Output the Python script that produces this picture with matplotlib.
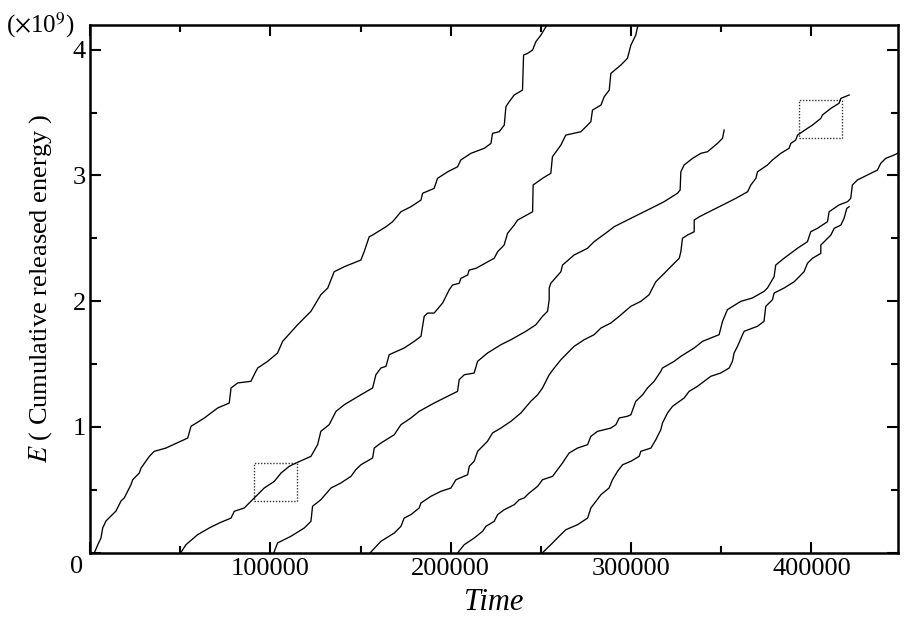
import matplotlib
matplotlib.use("Agg")
import matplotlib.pyplot as plt
from matplotlib.patches import Rectangle
from matplotlib.ticker import MultipleLocator, FixedLocator

plt.rcParams['font.family'] = ['Liberation Serif', 'DejaVu Serif']
plt.rcParams['mathtext.fontset'] = 'stix'

# Time values and cumulative released energy (x1e9) for six runs
t1 = [2500, 4270, 6100, 7040, 8870, 14400, 17200, 19000, 22700, 23700, 27300, 28300, 32900, 35600,
      42100, 54200, 56000, 63400, 70800, 77200, 78200, 81900, 89200, 92000, 93000, 98500, 104000,
      106800, 115100, 122500, 128000, 131800, 135400, 141000, 150200, 152000, 154800, 156700,
      164100, 167800, 172400, 177900, 183500, 184400, 190800, 192700, 198300, 203800, 205600,
      211200, 218600, 222300, 223200, 226900, 229700, 230600, 232400, 235200, 239800, 240400,
      242600, 245400, 247200, 250000, 252800, 254500]
e1 = [0.0, 0.06, 0.116, 0.195, 0.251, 0.330, 0.410, 0.434, 0.539, 0.579, 0.632, 0.672, 0.765, 0.805,
      0.831, 0.911, 1.004, 1.070, 1.150, 1.189, 1.309, 1.349, 1.362, 1.442, 1.468, 1.521, 1.587,
      1.680, 1.812, 1.919, 2.051, 2.104, 2.234, 2.274, 2.327, 2.393, 2.512, 2.526,
      2.592, 2.632, 2.711, 2.751, 2.804, 2.858, 2.897, 2.977, 3.029, 3.069, 3.123,
      3.176, 3.216, 3.255, 3.335, 3.348, 3.401, 3.547, 3.586, 3.640, 3.679, 3.958,
      3.971, 3.998, 4.064, 4.117, 4.183, 4.25]

t2 = [50400, 53200, 59700, 66100, 71700, 78200, 80000, 85500, 89200, 96600, 102200, 105900, 110500,
      114200, 122500, 126200, 128000, 132600, 136400, 141000, 150200, 156700, 158500, 161300,
      164100, 165900, 174200, 179800, 183500, 185300, 187200, 190800, 195500, 199200, 201000,
      204700, 205600, 209400, 210200, 214000, 224100, 226000, 229600, 231500, 235200, 237100,
      245400, 245700, 250900, 255500, 256400, 261100, 263800, 272200, 277700, 278600, 283300,
      285100, 287900, 288800, 294300, 298000, 299900, 302600, 303600, 304500]
e2 = [0.0, 0.062, 0.142, 0.195, 0.235, 0.274, 0.328, 0.354, 0.407, 0.513, 0.566, 0.632, 0.686,
      0.712, 0.765, 0.858, 0.964, 1.017, 1.123, 1.176, 1.255, 1.309, 1.414, 1.468,
      1.481, 1.574, 1.627, 1.680, 1.720, 1.879, 1.905, 1.905, 1.985, 2.091, 2.128,
      2.142, 2.181, 2.208, 2.247, 2.261, 2.341, 2.393, 2.446, 2.539, 2.605, 2.645,
      2.711, 2.924, 2.977, 3.017, 3.149, 3.242, 3.321, 3.348, 3.427, 3.520, 3.560,
      3.626, 3.679, 3.812, 3.878, 3.932, 4.037, 4.117, 4.183, 4.25]

t3 = [102000, 104000, 111400, 118800, 122500, 123400, 128000, 133600, 139100, 144700, 147400,
      150200, 156700, 157600, 161300, 168700, 172400, 177900, 182500, 190800, 198300, 203800,
      204700, 207500, 213000, 214900, 220400, 227800, 233400, 241700, 247200, 250900, 253700,
      254600, 254600, 255500, 261100, 262000, 268400, 275800, 279500, 287000, 290600, 299900,
      307200, 312800, 318300, 325700, 327200, 327600, 329400, 334100, 338700, 342400, 347900,
      350700, 351600]
e3 = [0.0, 0.076, 0.129, 0.195, 0.248, 0.368, 0.420, 0.513, 0.553, 0.606, 0.659,
      0.698, 0.752, 0.831, 0.871, 0.937, 1.017, 1.070, 1.123, 1.189, 1.243, 1.282,
      1.375, 1.414, 1.428, 1.521, 1.587, 1.653, 1.693, 1.760, 1.812, 1.879, 1.919,
      2.011, 2.104, 2.142, 2.234, 2.287, 2.367, 2.420, 2.473, 2.552, 2.592, 2.659,
      2.711, 2.751, 2.791, 2.858, 2.884, 3.029, 3.083, 3.136, 3.176, 3.189, 3.255,
      3.295, 3.361]

t4 = [155500, 161300, 168700, 172400, 174200, 177900, 182500, 183500, 189000, 194600, 200100,
      202900, 209400, 210300, 213000, 214900, 220400, 223200, 227800, 233400, 238900, 244400,
      248200, 250900, 254600, 257400, 261100, 265700, 268400, 274000, 279500, 283300, 288800,
      293400, 299900, 305400, 310000, 311900, 313700, 316500, 319300, 321100, 326700, 327600,
      328500, 331300, 335000, 335000, 337800, 343300, 352600, 358100, 364600, 366400, 369200,
      370100, 375600, 378400, 383000, 387600, 388600, 391300, 392300, 397800, 400600, 405200,
      406100, 410800, 415300, 416300, 420900]
e4 = [0.0, 0.089, 0.155, 0.208, 0.274, 0.301, 0.354, 0.394, 0.447, 0.487, 0.513,
      0.579, 0.619, 0.686, 0.726, 0.805, 0.885, 0.951, 0.990, 1.044, 1.110, 1.203,
      1.255, 1.309, 1.414, 1.468, 1.534, 1.601, 1.640, 1.693, 1.733, 1.786, 1.826,
      1.879, 1.959, 1.998, 2.051, 2.104, 2.154, 2.194, 2.234, 2.261, 2.341, 2.393,
      2.500, 2.526, 2.552, 2.645, 2.671, 2.711, 2.778, 2.818, 2.870, 2.924, 2.977,
      3.029, 3.083, 3.123, 3.176, 3.216, 3.255, 3.282, 3.321, 3.375, 3.401, 3.454,
      3.481, 3.534, 3.574, 3.613, 3.640]

t5 = [204000, 207500, 213000, 217700, 219500, 224100, 226000, 229600, 235200, 238000, 240700,
      243500, 248200, 250900, 256500, 259200, 262000, 263800, 265700, 270300, 275900, 277700,
      281400, 288800, 291600, 293400, 298000, 299900, 302600, 306400, 309100, 312800, 316500,
      317400, 323900, 327600, 335000, 339600, 348800, 350700, 353400, 360800, 367300, 373800,
      375600, 379300, 380200, 384800, 392200, 397800, 399600, 403300, 408900, 409800, 415300,
      420000, 421800, 422700, 425500, 436600, 438400, 441200, 445800, 449500]
e5 = [0.0, 0.062, 0.115, 0.169, 0.208, 0.248, 0.301, 0.340, 0.380, 0.420, 0.434,
      0.473, 0.527, 0.579, 0.606, 0.659, 0.712, 0.752, 0.792, 0.831, 0.858, 0.924,
      0.964, 0.990, 1.017, 1.070, 1.084, 1.096, 1.203, 1.255, 1.309, 1.362, 1.442,
      1.468, 1.521, 1.561, 1.627, 1.680, 1.733, 1.839, 1.932, 1.998, 2.025, 2.078,
      2.104, 2.194, 2.287, 2.341, 2.420, 2.473, 2.552, 2.579, 2.632, 2.711, 2.765,
      2.791, 2.818, 2.924, 2.964, 3.043, 3.096, 3.136, 3.162, 3.189]

t6 = [251000, 255500, 260100, 263800, 270300, 275900, 277700, 280500, 283300, 287800, 289700,
      292500, 295300, 299900, 304500, 305400, 311000, 313700, 316500, 317400, 320200, 323000,
      329400, 332200, 336800, 340500, 344200, 349700, 354400, 356200, 357100, 359000, 361800,
      362700, 370100, 373700, 374700, 378400, 379300, 384800, 390400, 393200, 395900, 397800,
      400600, 405200, 405200, 410800, 412600, 416300, 418100, 419600, 420900]
e6 = [0.0, 0.062, 0.129, 0.181, 0.221, 0.274, 0.354, 0.407, 0.460, 0.513, 0.579,
      0.646, 0.698, 0.726, 0.765, 0.805, 0.831, 0.897, 0.977, 1.030, 1.110, 1.163,
      1.229, 1.282, 1.322, 1.362, 1.402, 1.428, 1.468, 1.521, 1.587, 1.640, 1.733,
      1.760, 1.800, 1.839, 1.959, 2.011, 2.064, 2.104, 2.154, 2.194, 2.234, 2.301,
      2.341, 2.380, 2.446, 2.526, 2.579, 2.605, 2.659, 2.738, 2.751]

series_t = [t1, t2, t3, t4, t5, t6]
series_e = [e1, e2, e3, e4, e5, e6]

# dotted boxes: (time start, energy start, width, height)
box_t = [91000, 393000]
box_e = [0.41, 3.30]
box_w = [24000, 24000]
box_h = [0.30, 0.30]

x_ticks = [0, 100000, 200000, 300000, 400000]
x_labels = ['', '100000', '200000', '300000', '400000']
y_ticks = [0, 1, 2, 3, 4]
y_labels = ['', '1', '2', '3', '4']

fig = plt.figure(figsize=(9.05, 6.17), dpi=100)
ax = fig.add_axes([90/905, 1-552.5/617, 808/905, 527.5/617])

for t, e in zip(series_t, series_e):
    ax.plot(t, e, color='black', lw=0.95)

for bx, by, bw, bh in zip(box_t, box_e, box_w, box_h):
    ax.add_patch(Rectangle((bx, by), bw, bh, fill=False, ls=(0, (1, 1.2)),
                           lw=1.0, edgecolor='#333333'))

ax.set_xlim(0, 448000)
ax.set_ylim(0, 4.197)

ax.xaxis.set_major_locator(FixedLocator(x_ticks))
ax.set_xticklabels(x_labels)
ax.xaxis.set_minor_locator(MultipleLocator(50000))
ax.yaxis.set_major_locator(FixedLocator(y_ticks))
ax.set_yticklabels(y_labels)
ax.yaxis.set_minor_locator(MultipleLocator(0.5))

ax.tick_params(which='both', direction='in', top=True, right=True, width=1.5, labelsize=19)
ax.tick_params(which='major', length=8)
ax.tick_params(which='minor', length=5)
ax.tick_params(axis='x', pad=4)
ax.tick_params(axis='y', pad=3)
for s in ax.spines.values():
    s.set_linewidth(1.8)

ax.text(-0.017, -0.028, '0', transform=ax.transAxes, ha='center', va='center', fontsize=19)
ax.text(-0.061, 1.0, r'($\times$10$^9$)', transform=ax.transAxes, ha='center', va='center', fontsize=18)

ax.set_xlabel('Time', fontsize=22, style='italic')
ax.xaxis.set_label_coords(0.5, -0.068)
ax.set_ylabel(r'$E$ ( Cumulative released energy )', fontsize=19)
ax.yaxis.set_label_coords(-0.045, 0.5)

fig.savefig('out.png', dpi=100)
